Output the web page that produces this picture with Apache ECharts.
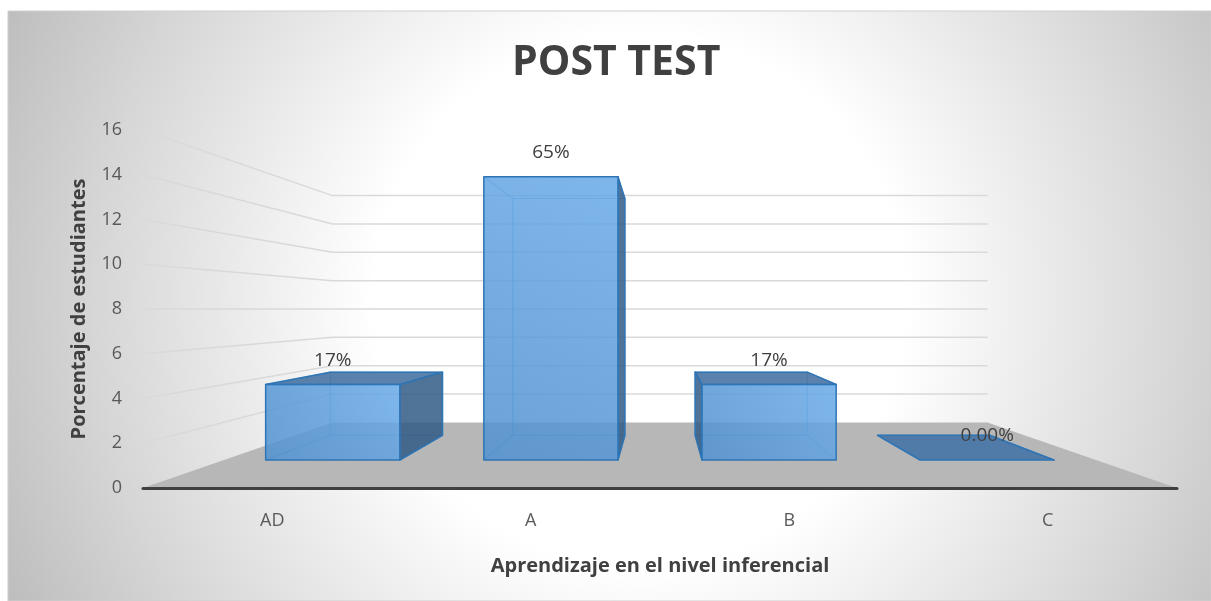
<!DOCTYPE html>
<html>
<head>
<meta charset="utf-8">
<script src="https://cdn.jsdelivr.net/npm/echarts@6/dist/echarts.min.js"></script>
<style>
  html, body { margin: 0; padding: 0; background: #ffffff; }
  #chart { width: 1211px; height: 601px; }
</style>
</head>
<body>
<div id="chart"></div>
<script>
// ---- data ----
const categories = ['AD', 'A', 'B', 'C'];
const values = [4, 15, 4, 0];
const dataLabels = ['17%', '65%', '17%', '0.00%'];
const yTicks = [0, 2, 4, 6, 8, 10, 12, 14, 16];
const titleText = 'POST TEST';
const xAxisName = 'Aprendizaje en el nivel inferencial';
const yAxisName = 'Porcentaje de estudiantes';

// ---- 3D look (styling constants) ----
const EYE = 8;          // eye level (vanishing point height, axis units)
const K_WALL = 0.6335;  // depth scale of back wall
const K_FRONT = 0.844;  // depth scale of bar front face
const K_BACK = 0.7056;  // depth scale of bar back face
const BAR_RATIO = 0.615;
const FONT = '"Open Sans", "Liberation Sans", sans-serif';

function persp(api) {
  const band = api.size([1, 0])[0];
  const left = api.coord([0, 0])[0] - band / 2;
  const right = api.coord([categories.length - 1, 0])[0] + band / 2;
  const vx = (left + right) / 2;
  const vy = api.coord([0, EYE])[1];
  return {
    band, left, right,
    P: (x, y, k) => [vx + (x - vx) * k, vy + (y - vy) * k],
    vx, vy
  };
}

function renderGrid(params, api) {
  const v = api.value(1);
  const g = persp(api);
  const y = api.coord([0, v])[1];
  const a = [g.left, y];
  const b = g.P(g.left, y, K_WALL);
  const c = g.P(g.right, y, K_WALL);
  const d = [g.right, y];
  if (v === 0) {
    return {
      type: 'polygon',
      shape: { points: [a, b, c, d] },
      style: { fill: '#b7b7b7', stroke: null }
    };
  }
  return {
    type: 'polyline',
    shape: { points: [a, b, c] },
    style: { stroke: '#d9d9d9', lineWidth: 1.5, fill: null }
  };
}

function renderBar(params, api) {
  const i = api.value(0);
  const v = api.value(1);
  const g = persp(api);
  const base = api.coord([i, 0]);
  const top = api.coord([i, v]);
  const w = g.band * BAR_RATIO;
  const xl = base[0] - w / 2, xr = base[0] + w / 2;
  const y0 = base[1], yt = top[1];
  const P = g.P;
  const fTL = P(xl, yt, K_FRONT), fTR = P(xr, yt, K_FRONT), fBR = P(xr, y0, K_FRONT), fBL = P(xl, y0, K_FRONT);
  const bTL = P(xl, yt, K_BACK), bTR = P(xr, yt, K_BACK), bBR = P(xr, y0, K_BACK), bBL = P(xl, y0, K_BACK);
  const edge = '#2e75b6';
  const faint = 'rgba(46,117,182,0.45)';
  const children = [];
  children.push({ type: 'polygon', shape: { points: [bTL, bTR, bBR, bBL] }, style: { fill: null, stroke: faint, lineWidth: 1.2 } });
  children.push({ type: 'line', shape: { x1: fBL[0], y1: fBL[1], x2: bBL[0], y2: bBL[1] }, style: { stroke: faint, lineWidth: 1.2 } });
  children.push({ type: 'line', shape: { x1: fBR[0], y1: fBR[1], x2: bBR[0], y2: bBR[1] }, style: { stroke: faint, lineWidth: 1.2 } });
  children.push({ type: 'line', shape: { x1: fTL[0], y1: fTL[1], x2: bTL[0], y2: bTL[1] }, style: { stroke: faint, lineWidth: 1.2 } });
  children.push({ type: 'line', shape: { x1: fTR[0], y1: fTR[1], x2: bTR[0], y2: bTR[1] }, style: { stroke: faint, lineWidth: 1.2 } });
  if (v > 0) {
    const side = base[0] < g.vx ? [fTR, bTR, bBR, fBR] : [fTL, bTL, bBL, fBL];
    children.push({ type: 'polygon', shape: { points: side }, style: { fill: 'rgba(49,90,134,0.85)', stroke: edge, lineWidth: 1.5, lineJoin: 'round' } });
  }
  if (yt > g.vy || v === 0) {
    children.push({ type: 'polygon', shape: { points: [fTL, fTR, bTR, bTL] }, style: { fill: v === 0 ? 'rgba(62,112,165,0.85)' : 'rgba(62,108,158,0.85)', stroke: edge, lineWidth: 1.5, lineJoin: 'round' } });
  }
  if (v > 0) {
    children.push({
      type: 'polygon', shape: { points: [fTL, fTR, fBR, fBL] },
      style: {
        fill: {
          type: 'linear', x: 0, y: 1, x2: 1, y2: 0,
          colorStops: [{ offset: 0, color: 'rgba(80,145,208,0.85)' }, { offset: 1, color: 'rgba(104,170,232,0.85)' }]
        },
        stroke: edge, lineWidth: 1.5, lineJoin: 'round'
      }
    });
  }
  children.push({
    type: 'text',
    style: {
      text: dataLabels[i],
      x: (fTL[0] + fTR[0]) / 2,
      y: fTL[1] - 24,
      align: 'center', verticalAlign: 'middle',
      textAlign: 'center', textVerticalAlign: 'middle',
      fill: '#404040',
      font: '19px ' + FONT
    }
  });
  return { type: 'group', children };
}

const chart = echarts.init(document.getElementById('chart'), null, { renderer: 'canvas' });
chart.setOption({
  animation: false,
  backgroundColor: '#ffffff',
  graphic: [{
    type: 'rect', z: -100, silent: true,
    shape: { x: 8, y: 11, width: 1203, height: 590 },
    style: {
      fill: {
        type: 'radial', x: 640, y: 300, r: 700, global: true,
        colorStops: [
          { offset: 0, color: '#ffffff' },
          { offset: 0.38, color: '#ffffff' },
          { offset: 0.78, color: '#d6d6d6' },
          { offset: 1, color: '#bdbdbd' }
        ]
      },
      stroke: '#cfcfcf', lineWidth: 1
    }
  }],
  title: {
    text: titleText,
    left: 507,
    top: 38,
    textStyle: { fontFamily: FONT, fontWeight: 'bold', fontSize: 41, color: '#404040' }
  },
  grid: { left: 143, right: 34, top: 130, bottom: 113, containLabel: false },
  xAxis: {
    type: 'category',
    data: categories,
    z: 5,
    boundaryGap: true,
    axisLine: { show: true, lineStyle: { color: '#404040', width: 3 } },
    axisTick: { show: false },
    splitLine: { show: false },
    axisLabel: { margin: 24, color: '#595959', fontFamily: FONT, fontSize: 18 },
    name: xAxisName,
    nameLocation: 'middle',
    nameGap: 68,
    nameTextStyle: { fontFamily: FONT, fontWeight: 'bold', fontSize: 20, color: '#404040' }
  },
  yAxis: {
    type: 'value',
    min: yTicks[0],
    max: yTicks[yTicks.length - 1],
    interval: 2,
    axisLine: { show: false },
    axisTick: { show: false },
    splitLine: { show: false },
    axisLabel: { margin: 21, color: '#595959', fontFamily: FONT, fontSize: 18 },
    name: yAxisName,
    nameLocation: 'middle',
    nameRotate: 90,
    nameGap: 54,
    nameTextStyle: { fontFamily: FONT, fontWeight: 'bold', fontSize: 20, color: '#404040' }
  },
  series: [
    {
      type: 'custom',
      name: 'walls',
      z: 1,
      silent: true,
      renderItem: renderGrid,
      encode: { x: 0, y: 1 },
      data: yTicks.map(t => [0, t])
    },
    {
      type: 'custom',
      name: 'bars',
      z: 3,
      renderItem: renderBar,
      encode: { x: 0, y: 1 },
      data: values.map((v, i) => [i, v])
    }
  ]
});
</script>
</body>
</html>
